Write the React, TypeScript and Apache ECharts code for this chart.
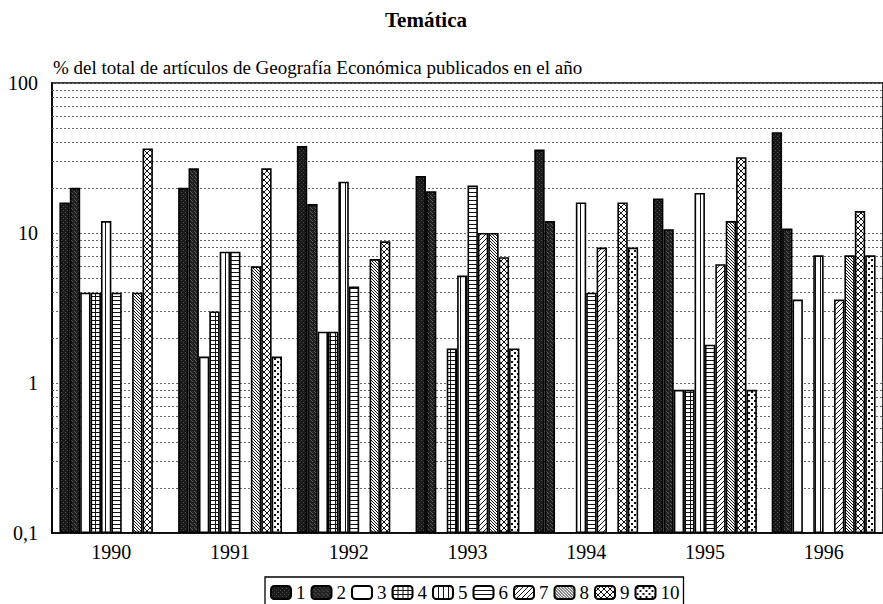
import React, { useEffect, useRef } from "react";
import * as echarts from "echarts";

const years = ["1990", "1991", "1992", "1993", "1994", "1995", "1996"];
const seriesNames = ["1", "2", "3", "4", "5", "6", "7", "8", "9", "10"];
const s1 = [16, 20, 38, 24, 36, 17, 47];
const s2 = [20, 27, 15.6, 19, 12, 10.6, 10.7];
const s3 = [4, 1.5, 2.2, null, null, 0.9, 3.6];
const s4 = [4, 3, 2.2, 1.7, null, 0.9, null];
const s5 = [12, 7.5, 22, 5.2, 16, 18.5, 7.1];
const s6 = [4, 7.5, 4.4, 20.7, 4, 1.8, null];
const s7 = [null, null, null, 10, 8, 6.2, 3.6];
const s8 = [4, 6, 6.7, 10, null, 12, 7.1];
const s9 = [36.6, 27, 8.8, 6.9, 16, 32, 14];
const s10 = [null, 1.5, null, 1.7, 8, 0.9, 7.1];
const allSeries = [s1, s2, s3, s4, s5, s6, s7, s8, s9, s10];
const minorGrid = [0.2, 0.3, 0.4, 0.5, 0.6, 0.7, 0.8, 0.9, 2, 3, 4, 5, 6, 7, 8, 9, 20, 30, 40, 50, 60, 70, 80, 90];
const yTickLabels: Record<string, string> = { "0.1": "0,1", "1": "1", "10": "10", "100": "100" };
const titleText = "Temática";
const subtitleText = "% del total de artículos de Geografía Económica publicados en el año";

const FONT = "'Liberation Serif', 'Times New Roman', serif";

function makeTile(kind: string): any {
  const size: Record<string, [number, number]> = {
    grid: [5, 4], vert: [5, 4], horiz: [4, 4], fwd: [5, 5], back: [3, 3], cross: [6, 6], dots: [6, 6], dark1: [4, 4], dark2: [4, 4],
  };
  const [w, h] = size[kind];
  const c = document.createElement("canvas");
  c.width = w;
  c.height = h;
  const g = c.getContext("2d")!;
  g.fillStyle = "#fff";
  g.fillRect(0, 0, w, h);
  g.fillStyle = "#111";
  g.strokeStyle = "#111";
  g.lineWidth = 1;
  const diag = (dir: number) => {
    g.beginPath();
    for (let k = -2; k <= 2; k++) {
      if (dir > 0) {
        g.moveTo(k * w - 1, h + 1);
        g.lineTo(k * w + w + 1, -1);
      } else {
        g.moveTo(k * w - 1, -1);
        g.lineTo(k * w + w + 1, h + 1);
      }
    }
    g.stroke();
  };
  if (kind === "grid") {
    g.fillRect(0, 0, w, 1);
    g.fillRect(0, 0, 1, h);
  } else if (kind === "vert") {
    g.fillRect(0, 0, 1, h);
  } else if (kind === "horiz") {
    g.fillRect(0, 0, w, 1);
  } else if (kind === "fwd") {
    diag(1);
  } else if (kind === "back") {
    diag(-1);
  } else if (kind === "cross") {
    diag(1);
    diag(-1);
  } else if (kind === "dots") {
    g.fillRect(1, 1, 2, 2);
    g.fillRect(4, 4, 2, 2);
  } else if (kind === "dark1") {
    g.fillStyle = "#1a1a1a";
    g.fillRect(0, 0, w, h);
    g.fillStyle = "#4a4a4a";
    g.fillRect(1, 0, 1, 1);
    g.fillRect(3, 2, 1, 1);
  } else if (kind === "dark2") {
    g.fillStyle = "#202020";
    g.fillRect(0, 0, w, h);
    g.fillStyle = "#5a5a5a";
    g.fillRect(0, 1, 1, 1);
    g.fillRect(2, 3, 1, 1);
    g.fillRect(3, 0, 1, 1);
  }
  return { image: c.toDataURL("image/png"), imageWidth: w, imageHeight: h, repeat: "repeat" };
}

export default function App() {
  const ref = useRef<HTMLDivElement>(null);
  useEffect(() => {
    if (!ref.current) return;
    const chart = echarts.init(ref.current, null, { renderer: "svg" });
    const fills: any[] = [
      makeTile("dark1"),
      makeTile("dark2"),
      "#ffffff",
      makeTile("grid"),
      makeTile("vert"),
      makeTile("horiz"),
      makeTile("fwd"),
      makeTile("back"),
      makeTile("cross"),
      makeTile("dots"),
    ];
    const barSeries = allSeries.map((data, i) => ({
      name: seriesNames[i],
      type: "bar",
      data: data.map((v) => (v == null ? "-" : v)),
      barGap: "0%",
      barCategoryGap: "12.5%",
      z: 3,
      itemStyle: { color: fills[i], borderColor: "#000", borderWidth: 1.6 },
    }));
    const option: any = {
      animation: false,
      backgroundColor: "#fff",
      graphic: [
        {
          type: "text",
          x: 426,
          y: 20,
          style: { text: titleText, font: `bold 21px ${FONT}`, fill: "#000", textAlign: "center", textVerticalAlign: "middle" },
        },
        {
          type: "text",
          x: 53,
          y: 67,
          style: { text: subtitleText, font: `19px ${FONT}`, fill: "#000", textAlign: "left", textVerticalAlign: "middle" },
        },
      ],
      legend: {
        data: seriesNames,
        left: 265,
        top: 577,
        orient: "horizontal",
        itemWidth: 20,
        itemHeight: 13,
        itemGap: 5,
        padding: [6, 4, 16, 5],
        borderColor: "#000",
        borderWidth: 1.3,
        backgroundColor: "#fff",
        textStyle: { fontFamily: FONT, fontSize: 19, color: "#000" },
        selectedMode: false,
      },
      grid: {
        left: 52,
        top: 83,
        width: 836,
        height: 450,
        show: true,
        borderColor: "#000",
        borderWidth: 1.6,
        backgroundColor: "#fff",
      },
      xAxis: {
        type: "category",
        data: years,
        axisLine: { show: true, lineStyle: { color: "#000", width: 1.6 } },
        axisTick: { show: false },
        axisLabel: { fontFamily: FONT, fontSize: 20, color: "#000", margin: 9 },
      },
      yAxis: {
        type: "log",
        logBase: 10,
        min: 0.1,
        max: 100,
        startValue: 0.1,
        axisLine: { show: true, lineStyle: { color: "#000", width: 1.6 } },
        axisTick: { show: false },
        axisLabel: {
          fontFamily: FONT,
          fontSize: 20,
          color: "#000",
          margin: 14,
          formatter: (v: number) => {
            const key = String(Math.round(v * 1000) / 1000);
            return yTickLabels[key] ?? key;
          },
        },
        splitLine: { show: true, lineStyle: { color: "#666", type: [2, 2], width: 1 } },
      },
      series: [
        ...barSeries,
        {
          name: "grid-minor",
          type: "line",
          data: [],
          z: 1,
          silent: true,
          markLine: {
            z: 1,
            silent: true,
            symbol: ["none", "none"],
            label: { show: false },
            lineStyle: { color: "#666", type: [2, 2], width: 1 },
            emphasis: { disabled: true },
            data: minorGrid.map((v) => ({ yAxis: v })),
          },
        },
      ],
    };
    chart.setOption(option);
    return () => chart.dispose();
  }, []);
  return <div ref={ref} style={{ position: "absolute", left: 0, top: 0, width: 883, height: 604 }} />;
}
